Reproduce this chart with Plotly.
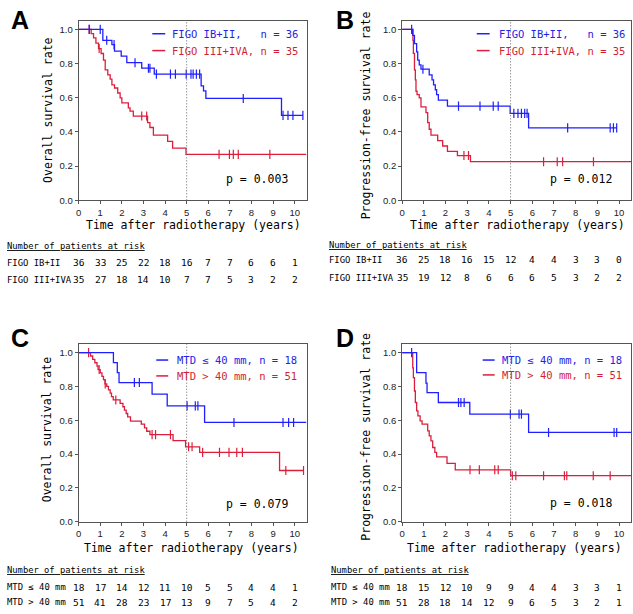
import plotly.graph_objects as go

W, H = 633, 614

# ---------------- data ----------------
years = list(range(11))

# Panel A: overall survival by FIGO stage
a_blue_t = [1.12, 1.54, 1.66, 1.97, 2.23, 2.92, 3.5, 5.67, 5.78, 5.89, 9.39]
a_blue_s = [0.936, 0.911, 0.873, 0.844, 0.805, 0.773, 0.738, 0.67, 0.64, 0.596, 0.497]
a_blue_cens = [0.49, 1.0, 1.3, 1.64, 2.61, 3.23, 3.3, 3.6, 4.25, 4.48, 4.98, 5.2, 5.3, 5.45, 5.6, 7.62, 9.46, 9.69, 9.92, 10.38]
a_blue_end = 10.38
a_red_t = [0.58, 0.69, 0.80, 0.92, 1.04, 1.15, 1.23, 1.35, 1.46, 1.54, 1.66, 1.81, 1.92, 2.0, 2.3, 2.38, 2.53, 3.19, 3.30, 3.46, 4.12, 4.35, 4.97]
a_red_s = [0.975, 0.95, 0.92, 0.888, 0.859, 0.82, 0.763, 0.734, 0.709, 0.676, 0.657, 0.628, 0.599, 0.57, 0.541, 0.522, 0.493, 0.455, 0.426, 0.381, 0.345, 0.306, 0.269]
a_red_cens = [0.49, 0.95, 2.92, 3.15, 6.5, 6.98, 7.16, 7.39, 8.85]
a_red_end = 10.54

# Panel B: progression-free survival by FIGO stage
b_blue_t = [0.49, 0.57, 0.67, 0.72, 0.79, 0.87, 1.25, 1.38, 1.45, 1.53, 1.59, 1.67, 2.09, 4.98, 5.83]
b_blue_s = [0.965, 0.917, 0.869, 0.82, 0.792, 0.767, 0.734, 0.705, 0.676, 0.647, 0.618, 0.586, 0.551, 0.509, 0.424]
b_blue_cens = [0.44, 0.96, 2.6, 3.59, 4.2, 4.43, 5.15, 5.34, 5.5, 5.65, 5.76, 7.63, 9.59, 9.74, 9.89]
b_blue_end = 9.9
b_red_t = [0.5, 0.52, 0.57, 0.61, 0.64, 0.69, 0.79, 0.87, 1.1, 1.18, 1.25, 1.33, 1.64, 1.87, 2.09, 2.55, 3.15]
b_red_s = [0.936, 0.86, 0.763, 0.705, 0.638, 0.618, 0.599, 0.547, 0.513, 0.455, 0.416, 0.382, 0.349, 0.318, 0.286, 0.262, 0.226]
b_red_cens = [2.85, 3.06, 6.52, 7.15, 7.4, 8.82]
b_red_end = 10.55

# Panel C: overall survival by MTD
c_blue_t = [1.61, 1.79, 1.87, 3.4, 4.1, 5.83]
c_blue_s = [0.941, 0.882, 0.823, 0.754, 0.685, 0.587]
c_blue_cens = [2.58, 2.81, 5.02, 5.4, 5.52, 7.19, 9.46, 9.72, 9.95]
c_blue_end = 10.54
c_red_t = [0.55, 0.65, 0.75, 0.85, 0.9, 1.0, 1.08, 1.15, 1.22, 1.3, 1.38, 1.46, 1.52, 1.6, 1.92, 2.05, 2.12, 2.2, 2.27, 2.4, 2.9, 3.05, 3.15, 3.3, 4.37, 4.95, 5.6, 9.3]
c_red_s = [0.98, 0.96, 0.94, 0.92, 0.90, 0.88, 0.86, 0.84, 0.815, 0.80, 0.78, 0.76, 0.74, 0.72, 0.70, 0.68, 0.66, 0.64, 0.62, 0.595, 0.577, 0.555, 0.535, 0.515, 0.479, 0.443, 0.41, 0.303]
c_red_cens = [0.46, 0.95, 1.23, 1.72, 3.4, 3.56, 4.25, 5.09, 5.25, 5.74, 6.52, 6.96, 7.32, 7.58, 9.59, 10.41]
c_red_end = 10.41

# Panel D: progression-free survival by MTD
d_blue_t = [0.67, 1.1, 1.15, 1.67, 3.12, 5.83]
d_blue_s = [0.882, 0.82, 0.764, 0.705, 0.636, 0.528]
d_blue_cens = [0.44, 2.6, 2.71, 2.86, 4.99, 5.39, 5.5, 6.75, 9.77, 9.89]
d_blue_end = 10.55
d_red_t = [0.49, 0.52, 0.57, 0.61, 0.67, 0.73, 0.83, 0.92, 1.18, 1.25, 1.33, 1.41, 1.51, 1.59, 2.07, 2.45, 5.0]
d_red_s = [0.91, 0.852, 0.773, 0.705, 0.656, 0.626, 0.596, 0.577, 0.537, 0.508, 0.478, 0.439, 0.41, 0.384, 0.345, 0.307, 0.272]
d_red_cens = [3.13, 3.56, 4.27, 4.43, 5.08, 5.24, 6.52, 7.48, 7.59, 8.81, 9.59]
d_red_end = 10.55

# Numbers at risk
a_risk_blue = [36, 33, 25, 22, 18, 16, 7, 7, 6, 6, 1]
a_risk_red = [35, 27, 18, 14, 10, 7, 7, 5, 3, 2, 2]
b_risk_blue = [36, 25, 18, 16, 15, 12, 4, 4, 3, 3, 0]
b_risk_red = [35, 19, 12, 8, 6, 6, 6, 5, 3, 2, 2]
c_risk_blue = [18, 17, 14, 12, 11, 10, 5, 5, 4, 4, 1]
c_risk_red = [51, 41, 28, 23, 17, 13, 9, 7, 5, 4, 2]
d_risk_blue = [18, 15, 12, 10, 9, 9, 4, 4, 3, 3, 1]
d_risk_red = [51, 28, 18, 14, 12, 9, 6, 5, 3, 2, 1]

figo_labels = ["FIGO IB+II", "FIGO III+IVA"]
figo_legend = ["FIGO IB+II,   n = 36", "FIGO III+IVA, n = 35"]
mtd_labels = ["MTD ≤ 40 mm", "MTD > 40 mm"]
mtd_legend = ["MTD ≤ 40 mm, n = 18", "MTD > 40 mm, n = 51"]
p_values = ["p = 0.003", "p = 0.012", "p = 0.079", "p = 0.018"]
panel_letters = ["A", "B", "C", "D"]
y_titles = ["Overall survival rate", "Progression-free survival rate",
            "Overall survival rate", "Progression-free survival rate"]
x_title = "Time after radiotherapy (years)"
risk_title = "Number of patients at risk"

# ---------------- style ----------------
BLUE = "#1f1fff"
RED = "#dc1e3c"
BLUE_TXT = "#2424e6"
RED_TXT = "#d21f35"
AXC = "#555555"
MONO = "DejaVu Sans Mono, monospace"
SANS = "Liberation Sans, Arial, sans-serif"


def pxx(x):
    return x / W


def pxy(y):
    return 1 - y / H


def surv_at(times, surv, t):
    s = 1.0
    for ti, si in zip(times, surv):
        if ti <= t:
            s = si
    return s


fig = go.Figure()

panels = [
    dict(ax="", t=(a_blue_t, a_blue_s, a_blue_cens, a_blue_end), r=(a_red_t, a_red_s, a_red_cens, a_red_end),
         risk=(a_risk_blue, a_risk_red), labels=figo_labels, legend=figo_legend,
         xd=(76, 305), yd=(21, 202), lx=17, ly=20, yt=(45, 111), xt=(191, 227), pv=(288, 180),
         leg=(150, 163, 168, 34, 51), rk=(2, 248, 265, 282)),
    dict(ax="2", t=(b_blue_t, b_blue_s, b_blue_cens, b_blue_end), r=(b_red_t, b_red_s, b_red_cens, b_red_end),
         risk=(b_risk_blue, b_risk_red), labels=figo_labels, legend=figo_legend,
         xd=(401, 631), yd=(21, 202), lx=344, ly=20, yt=(365, 116), xt=(517, 227), pv=(614, 180),
         leg=(476, 489, 496, 34, 51), rk=(326, 247, 262, 280)),
    dict(ax="3", t=(c_blue_t, c_blue_s, c_blue_cens, c_blue_end), r=(c_red_t, c_red_s, c_red_cens, c_red_end),
         risk=(c_risk_blue, c_risk_red), labels=mtd_labels, legend=mtd_legend,
         xd=(76, 305), yd=(347, 526), lx=17, ly=341, yt=(45, 433), xt=(189, 553), pv=(288, 508),
         leg=(154, 166, 173, 363, 379), rk=(2, 575, 592, 607)),
    dict(ax="4", t=(d_blue_t, d_blue_s, d_blue_cens, d_blue_end), r=(d_red_t, d_red_s, d_red_cens, d_red_end),
         risk=(d_risk_blue, d_risk_red), labels=mtd_labels, legend=mtd_legend,
         xd=(401, 631), yd=(347, 526), lx=344, ly=341, yt=(365, 440), xt=(514, 553), pv=(614, 507),
         leg=(482, 494, 499, 363, 378), rk=(328, 575, 592, 607)),
]

annotations = []
shapes = []
layout_axes = {}

for i, p in enumerate(panels):
    xa = "x" + p["ax"]
    ya = "y" + p["ax"]
    for (times, surv, cens, end), col in ((p["r"], RED), (p["t"], BLUE)):
        xs = [0] + list(times) + [end]
        ys = [1.0] + list(surv) + [surv[-1]]
        fig.add_trace(go.Scatter(x=xs, y=ys, mode="lines", line=dict(color=col, width=1.3, shape="hv"),
                                 xaxis=xa, yaxis=ya, showlegend=False, hoverinfo="skip"))
        cy = [surv_at(times, surv, c) for c in cens]
        fig.add_trace(go.Scatter(x=list(cens), y=cy, mode="markers",
                                 marker=dict(symbol="line-ns", size=6.5, line=dict(color=col, width=1.2)),
                                 xaxis=xa, yaxis=ya, showlegend=False, hoverinfo="skip"))

    axis_common = dict(showline=True, mirror=True, linecolor=AXC, linewidth=1, ticks="outside",
                       ticklen=3, tickcolor=AXC, showgrid=False, zeroline=False,
                       tickfont=dict(family=SANS, size=9.5, color="#222"))
    xkey = "xaxis" + p["ax"]
    ykey = "yaxis" + p["ax"]
    layout_axes[xkey] = dict(axis_common, domain=[pxx(p["xd"][0]), pxx(p["xd"][1])], range=[0, 10.55],
                             tickvals=years, anchor=ya)
    layout_axes[ykey] = dict(axis_common, domain=[pxy(p["yd"][1]), pxy(p["yd"][0])], range=[0, 1.05],
                             tickvals=[0, 0.2, 0.4, 0.6, 0.8, 1.0], tickformat=".1f", anchor=xa)

    # dotted line at 5 years
    shapes.append(dict(type="line", xref=xa, yref=ya + " domain", x0=5, x1=5, y0=0, y1=1,
                       line=dict(color="#666", width=1, dash="1px,2px")))

    # legend samples
    l0, l1, tx, yb, yr = p["leg"]
    for yy, col, txt, tcol in ((yb, BLUE, p["legend"][0], BLUE_TXT), (yr, RED, p["legend"][1], RED_TXT)):
        shapes.append(dict(type="line", xref="paper", yref="paper", x0=pxx(l0), x1=pxx(l1),
                           y0=pxy(yy), y1=pxy(yy), line=dict(color=col, width=1.5)))
        annotations.append(dict(text=txt, xref="paper", yref="paper", x=pxx(tx), y=pxy(yy),
                                xanchor="left", yanchor="middle", showarrow=False,
                                font=dict(family=MONO, size=10.5, color=tcol)))

    # panel letter
    annotations.append(dict(text="<b>%s</b>" % panel_letters[i], xref="paper", yref="paper",
                            x=pxx(p["lx"]), y=pxy(p["ly"]), xanchor="center", yanchor="middle",
                            showarrow=False, font=dict(family=SANS, size=25, color="black")))
    # y title
    annotations.append(dict(text=y_titles[i], xref="paper", yref="paper", x=pxx(p["yt"][0]),
                            y=pxy(p["yt"][1]), xanchor="center", yanchor="middle", textangle=-90,
                            showarrow=False, font=dict(family=MONO, size=11.5, color="black")))
    # x title
    annotations.append(dict(text=x_title, xref="paper", yref="paper", x=pxx(p["xt"][0]),
                            y=pxy(p["xt"][1]), xanchor="center", yanchor="middle",
                            showarrow=False, font=dict(family=MONO, size=11.5, color="black")))
    # p-value
    annotations.append(dict(text=p_values[i], xref="paper", yref="paper", x=pxx(p["pv"][0]),
                            y=pxy(p["pv"][1]), xanchor="right", yanchor="middle",
                            showarrow=False, font=dict(family=MONO, size=11.5, color="black")))
    # risk table
    rx, ry0, ry1, ry2 = p["rk"]
    annotations.append(dict(text="<u>%s</u>" % risk_title, xref="paper", yref="paper", x=pxx(rx),
                            y=pxy(ry0), xanchor="left", yanchor="middle", showarrow=False,
                            font=dict(family=MONO, size=8.8, color="black")))
    for lab, vals, yy in ((p["labels"][0], p["risk"][0], ry1), (p["labels"][1], p["risk"][1], ry2)):
        annotations.append(dict(text=lab, xref="paper", yref="paper", x=pxx(rx), y=pxy(yy),
                                xanchor="left", yanchor="middle", showarrow=False,
                                font=dict(family=MONO, size=8.9, color="black")))
        for yr_, v in zip(years, vals):
            annotations.append(dict(text=str(v), xref=xa, yref="paper", x=yr_, y=pxy(yy),
                                    xanchor="center", yanchor="middle", showarrow=False,
                                    font=dict(family=MONO, size=9.5, color="black")))

fig.update_layout(width=W, height=H, autosize=False, margin=dict(l=0, r=0, t=0, b=0),
                  paper_bgcolor="white", plot_bgcolor="white", showlegend=False,
                  annotations=annotations, shapes=shapes, **layout_axes)

fig.write_html("out.html", config={"displayModeBar": False},
               post_script="document.body.style.margin='0px';document.body.style.padding='0px';")
